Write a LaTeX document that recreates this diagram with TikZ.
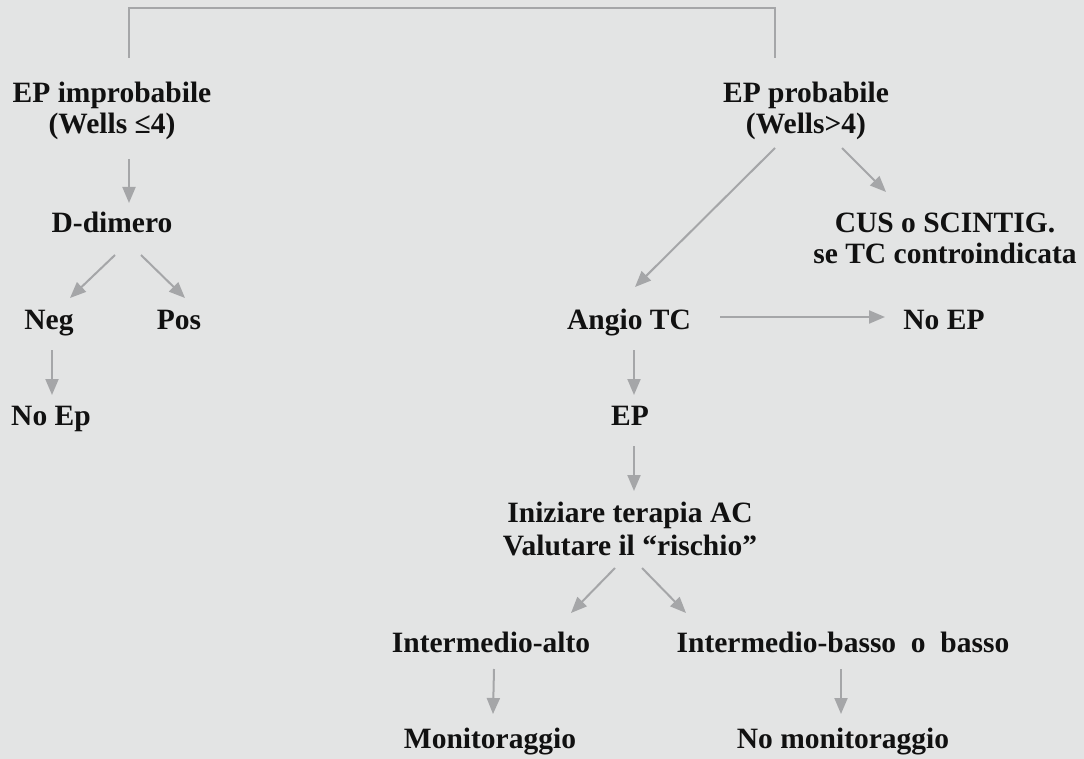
\documentclass[tikz,border=0pt]{standalone}
\usepackage{fontspec}
\setmainfont{Liberation Serif}
\usetikzlibrary{arrows.meta}
\definecolor{bgcol}{RGB}{227,228,228}
\definecolor{linecol}{RGB}{165,166,168}
\definecolor{txtcol}{RGB}{17,17,17}
\newcommand{\twolines}[2]{\begin{tabular}[t]{@{}c@{}}#1\\#2\end{tabular}}
\begin{document}
\begin{tikzpicture}[x=1pt,y=-1pt,
  lbl/.style={anchor=base,inner sep=0pt,text=txtcol,
    font=\fontsize{29.5}{31}\selectfont\bfseries},
  lblwide/.style={lbl,font=\fontsize{29.5}{33}\selectfont\bfseries},
  link/.style={draw=linecol,line width=2pt},
  arr/.style={link,-{Triangle[length=16pt,width=13pt]}}]
  % canvas
  \fill[bgcol] (0,0) rectangle (1084,759);
  \useasboundingbox (0,0) rectangle (1084,759);

  % left branch
  \node[lbl] (imp)   at (112,103) {\twolines{EP improbabile}{(Wells ≤4)}};
  \node[lbl] (dd)    at (112,233) {D-dimero};
  \node[lbl] (neg)   at (49,330)  {Neg};
  \node[lbl] (pos)   at (179,330) {Pos};
  \node[lbl] (noep1) at (51,425)  {No Ep};

  % right branch
  \node[lbl] (prob)  at (806,103) {\twolines{EP probabile}{(Wells>4)}};
  \node[lbl] (cus)   at (945,233) {\twolines{CUS o SCINTIG.}{se TC controindicata}};
  \node[lbl] (angio) at (629,330) {Angio TC};
  \node[lbl] (noep2) at (944,330) {No EP};
  \node[lbl] (ep)    at (630,425) {EP};
  \node[lblwide] (ini) at (630,522) {\twolines{Iniziare terapia AC}{Valutare il “rischio”}};
  \node[lbl] (ialto)  at (491,652) {Intermedio-alto};
  \node[lbl] (ibasso) at (843,652) {Intermedio-basso\ \ o\ \ basso};
  \node[lbl] (mon)    at (490,748) {Monitoraggio};
  \node[lbl] (nomon)  at (843,748) {No monitoraggio};

  % bracket joining the two branches
  \coordinate (brL) at ([shift={(17,-45)}]imp.base);
  \coordinate (brR) at ([shift={(-31,-45)}]prob.base);
  \draw[link] (brL) -- ++(0,-50) -| (brR);

  % connectors
  \draw[arr] ([shift={(17,56)}]imp.base)   -- ([shift={(17,-30)}]dd.base);
  \draw[arr] ([shift={(3,22)}]dd.base)     -- ([shift={(21,-32)}]neg.base);
  \draw[arr] ([shift={(29,22)}]dd.base)    -- ([shift={(6,-32)}]pos.base);
  \draw[arr] ([shift={(3,20)}]neg.base)    -- ([shift={(1,-30)}]noep1.base);

  \draw[arr] ([shift={(-31,45)}]prob.base) -- ([shift={(6,-43)}]angio.base);
  \draw[arr] ([shift={(36,45)}]prob.base)  -- ([shift={(-59,-41)}]cus.base);
  \draw[arr] ([shift={(91,-13)}]angio.base) -- ([shift={(-59,-13)}]noep2.base);
  \draw[arr] ([shift={(5,20)}]angio.base)  -- ([shift={(4,-30)}]ep.base);
  \draw[arr] ([shift={(4,21)}]ep.base)     -- ([shift={(4,-31)}]ini.base);
  \draw[arr] ([shift={(-15,46)}]ini.base)  -- ([shift={(80,-39)}]ialto.base);
  \draw[arr] ([shift={(12,46)}]ini.base)   -- ([shift={(-157,-39)}]ibasso.base);
  \draw[arr] ([shift={(3,17)}]ialto.base)  -- ([shift={(3,-34)}]mon.base);
  \draw[arr] ([shift={(-2,17)}]ibasso.base) -- ([shift={(-2,-34)}]nomon.base);
\end{tikzpicture}
\end{document}
